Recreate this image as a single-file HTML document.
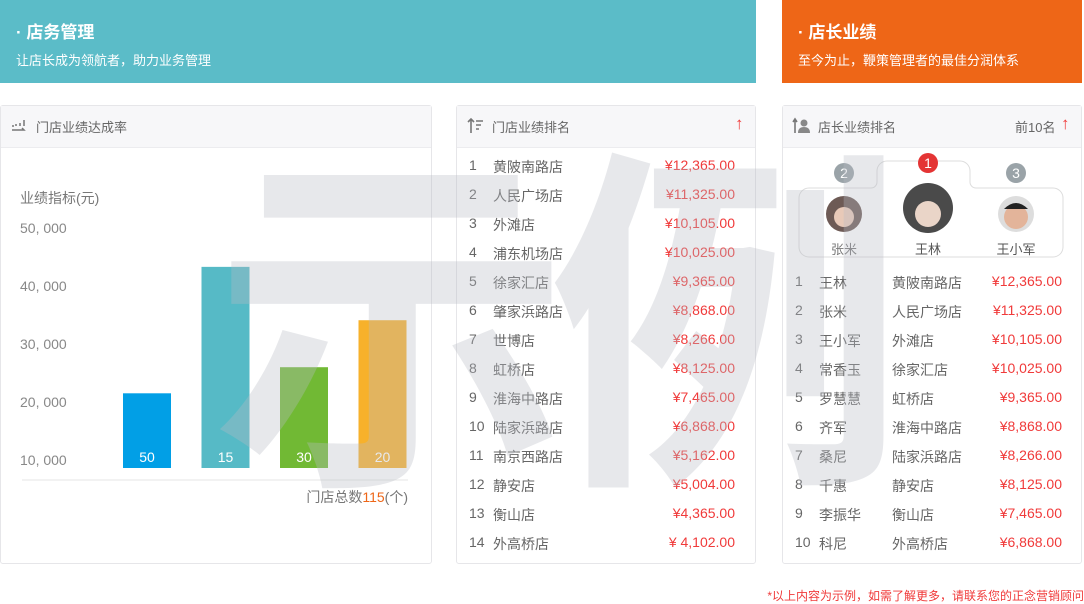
<!DOCTYPE html>
<html><head><meta charset="utf-8"><style>
*{margin:0;padding:0;box-sizing:border-box}
body{width:1084px;height:602px;background:#fff;position:relative;overflow:hidden;font-family:"Liberation Sans","Noto Sans CJK SC",sans-serif;color:#666}
.abs{position:absolute}
.banner{position:absolute;top:0;height:83px;color:#fff}
.banner h2{position:absolute;left:16px;top:18px;font-size:17px;font-weight:bold}
.banner p{position:absolute;left:16px;top:50px;font-size:13px}
.panel{position:absolute;top:105px;height:459px;border:1px solid #e6e6e9;border-radius:3px;background:#fff}
.ph{height:42px;background:#f7f7f9;border-bottom:1px solid #ececef;position:relative;font-size:13px;color:#666}
.ph span{position:absolute;left:35px;top:11px}
.row{position:absolute;font-size:14px;color:#666;height:20px;width:100%}
.red{color:#f03a3a}
.arrow{font-size:17px;font-weight:bold;top:8px!important}
</style></head><body>
<div class="banner" style="left:0;width:756px;background:#5bbcc8"><h2>· 店务管理</h2><p>让店长成为领航者，助力业务管理</p></div>
<div class="banner" style="left:782px;width:300px;background:#ee6617"><h2>· 店长业绩</h2><p>至今为止，鞭策管理者的最佳分润体系</p></div>

<div class="panel" style="left:0;width:432px">
<div class="ph"><svg class="abs" style="left:10px;top:12px" width="16" height="16"><path d="M1 8h2M5 6v2M9 5v3M13 2v6M1 12h12l-2-2" stroke="#777" stroke-width="1.5" fill="none"/></svg><span>门店业绩达成率</span></div>
<svg id="chart" class="abs" style="left:0;top:0" width="432" height="459"></svg>
</div>

<div class="panel" style="left:456px;width:300px">
<div class="ph"><svg class="abs" style="left:10px;top:11px" width="18" height="18"><path d="M4 16V2M1 5l3-3 3 3M9 4h7M9 8h5M9 12h3" stroke="#777" stroke-width="1.6" fill="none"/></svg><span>门店业绩排名</span><span class="red arrow" style="left:278px">↑</span></div>
<div id="storeList"></div>
</div>

<div class="panel" style="left:782px;width:300px">
<div class="ph"><svg class="abs" style="left:9px;top:11px" width="20" height="18"><path d="M3 16V2M1 5l2-3 2 3" stroke="#777" stroke-width="1.6" fill="none"/><circle cx="12" cy="6" r="3.5" fill="#888"/><path d="M6 16q0-6 6-6t6 6z" fill="#888"/></svg><span>店长业绩排名</span><span style="left:232px">前10名</span><span class="red arrow" style="left:278px">↑</span></div>
<svg class="abs" style="left:0;top:38px" width="300" height="120">
<path d="M16 54a10 10 0 0 1 10-10h62a6 6 0 0 0 6-6v-11a10 10 0 0 1 10-10h73a10 10 0 0 1 10 10v11a6 6 0 0 0 6 6h77a10 10 0 0 1 10 10v49a10 10 0 0 1-10 10h-244a10 10 0 0 1-10-10z" fill="#fff" stroke="#ddd"/>
<circle cx="61" cy="29" r="10" fill="#9aa3a8"/><text x="61" y="34" fill="#fff" font-size="14" text-anchor="middle">2</text>
<circle cx="145" cy="19" r="10" fill="#e43434"/><text x="145" y="24" fill="#fff" font-size="14" text-anchor="middle">1</text>
<circle cx="233" cy="29" r="10" fill="#9aa3a8"/><text x="233" y="34" fill="#fff" font-size="14" text-anchor="middle">3</text>
<circle cx="61" cy="70" r="18" fill="#6d5a55"/><circle cx="61" cy="73" r="10" fill="#e8c9b8"/>
<circle cx="145" cy="64" r="25" fill="#4a4a4a"/><circle cx="145" cy="70" r="13" fill="#ead5c8"/>
<circle cx="233" cy="70" r="18" fill="#ddd"/><circle cx="233" cy="73" r="12" fill="#e3b49a"/><path d="M221 65q12-12 24 0" fill="#222"/>
<text x="61" y="110" fill="#777" font-size="13" text-anchor="middle">张米</text>
<text x="145" y="110" fill="#555" font-size="13" text-anchor="middle">王林</text>
<text x="233" y="110" fill="#555" font-size="13" text-anchor="middle">王小军</text>
</svg>
<div id="mgrList"></div>
</div>

<div class="abs" style="left:212px;top:122px;font-size:358px;line-height:1;font-weight:bold;color:rgba(185,188,195,0.34);letter-spacing:-22px;font-family:'Noto Sans CJK SC',sans-serif;pointer-events:none">示例</div>
<div class="abs red" style="right:0;top:587px;font-size:12px">*以上内容为示例，如需了解更多，请联系您的正念营销顾问</div>

<script>
const barLabels=["50","15","30","20"];
const barValues=[21500,43300,26000,34100];
const barColors=["#019fe6","#56bac6","#71b934","#f7b12b"];
const yTicks=[10000,20000,30000,40000,50000];
const yTickLabels=["10, 000","20, 000","30, 000","40, 000","50, 000"];
const stores=["黄陂南路店","人民广场店","外滩店","浦东机场店","徐家汇店","肇家浜路店","世博店","虹桥店","淮海中路店","陆家浜路店","南京西路店","静安店","衡山店","外高桥店"];
const storeSales=["¥12,365.00","¥11,325.00","¥10,105.00","¥10,025.00","¥9,365.00","¥8,868.00","¥8,266.00","¥8,125.00","¥7,465.00","¥6,868.00","¥5,162.00","¥5,004.00","¥4,365.00","¥ 4,102.00"];
const managers=["王林","张米","王小军","常香玉","罗慧慧","齐军","桑尼","千惠","李振华","科尼"];
const mgrStores=["黄陂南路店","人民广场店","外滩店","徐家汇店","虹桥店","淮海中路店","陆家浜路店","静安店","衡山店","外高桥店"];
const mgrSales=["¥12,365.00","¥11,325.00","¥10,105.00","¥10,025.00","¥9,365.00","¥8,868.00","¥8,266.00","¥8,125.00","¥7,465.00","¥6,868.00"];

const NS="http://www.w3.org/2000/svg";
const svg=document.getElementById('chart');
const y=v=>354-(v-10000)*58/10000;
const baseY=362;
function t(x,yy,s,attrs){const e=document.createElementNS(NS,'text');e.setAttribute('x',x);e.setAttribute('y',yy);for(const k in attrs)e.setAttribute(k,attrs[k]);e.textContent=s;svg.appendChild(e);return e;}
const title=t(19,97,"业绩指标(元)",{fill:"#777","font-size":"14"});


yTicks.forEach((v,i)=>{const e=t(19,y(v)+5,yTickLabels[i],{fill:"#888","font-size":"14"});

});
barValues.forEach((v,i)=>{const x=122+i*78.5;const r=document.createElementNS(NS,'rect');
r.setAttribute('x',x);r.setAttribute('y',y(v));r.setAttribute('width',48);r.setAttribute('height',baseY-y(v));r.setAttribute('fill',barColors[i]);


svg.appendChild(r);
const l=t(x+24,baseY-6,barLabels[i],{fill:"#fff","font-size":"14","text-anchor":"middle"});

});
const ln=document.createElementNS(NS,'line');ln.setAttribute('x1',21);ln.setAttribute('x2',407);ln.setAttribute('y1',374);ln.setAttribute('y2',374);ln.setAttribute('stroke','#e6e6e6');svg.appendChild(ln);
const tot=document.createElementNS(NS,'text');tot.setAttribute('x',407);tot.setAttribute('y',396);tot.setAttribute('text-anchor','end');tot.setAttribute('font-size','14');tot.setAttribute('fill','#777');
tot.innerHTML='门店总数<tspan fill="#ee6617">115</tspan>(个)';


svg.appendChild(tot);

const sl=document.getElementById('storeList');
stores.forEach((s,i)=>{const d=document.createElement('div');d.className='row';d.style.top=(51+i*29)+'px';


d.innerHTML=`<span class="abs" style="left:12px">${i+1}</span><span class="abs" style="left:36px">${s}</span><span class="abs red" style="right:20px">${storeSales[i]}</span>`;sl.appendChild(d);});
const ml=document.getElementById('mgrList');
managers.forEach((m,i)=>{const d=document.createElement('div');d.className='row';d.style.top=(167+i*29)+'px';


d.innerHTML=`<span class="abs" style="left:12px">${i+1}</span><span class="abs" style="left:36px">${m}</span><span class="abs" style="left:109px">${mgrStores[i]}</span><span class="abs red" style="right:19px">${mgrSales[i]}</span>`;ml.appendChild(d);});
</script>
</body></html>
